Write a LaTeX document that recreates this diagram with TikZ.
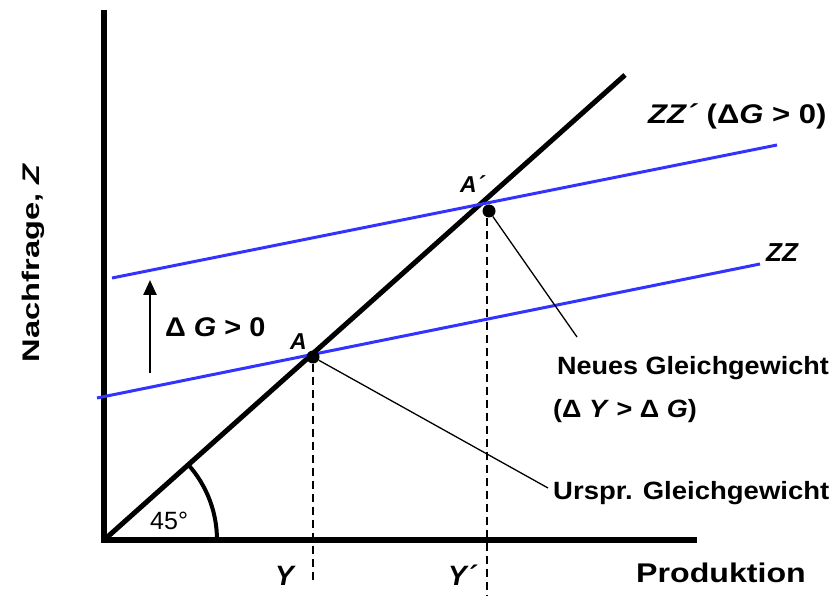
\documentclass[tikz,border=0pt]{standalone}
\usepackage{fontspec}
\setmainfont{Liberation Sans}
\usetikzlibrary{arrows.meta}
\begin{document}
\begin{tikzpicture}[x=1pt,y=1pt,yscale=-1,xscale=1,
  axis/.style={line width=6pt},
  zzline/.style={color={rgb,255:red,51;green,51;blue,255},line width=3pt},
  guide/.style={line width=1.5pt,dash pattern=on 8pt off 5pt},
  pointer/.style={line width=1.3pt},
  lbl/.style={font=\bfseries\fontsize{25}{29}\selectfont,inner sep=0pt},
  ital/.style={font=\bfseries\itshape\fontsize{23}{27}\selectfont,inner sep=0pt},
  dot/.style={circle,fill=black,inner sep=0pt,minimum size=13pt}]
\useasboundingbox (0,0) rectangle (836,596);
% axes
\coordinate (O) at (104,540);
\draw[axis] (104,10) -- (O) -- (697,540);
% 45 degree line
\coordinate (top) at (625,75);
\draw[line width=5pt] (O) -- (top);
\draw[line width=4pt] (217,540) arc (0:-41.8:113);
\draw (150,529) node[anchor=base west,font=\fontsize{25}{29}\selectfont,inner sep=0pt] (deg) {45°};
% ZZ and ZZ'
\draw[zzline] (97,398) -- (760,264);
\draw[zzline] (112,278) -- (777,145);
% equilibria
\node[dot] (A) at (313,357) {};
\node[dot] (Ap) at (489,211) {};
\coordinate (Yb) at (313,580);
\coordinate (Ypb) at (487,596);
\draw[guide] (A) -- (Yb);
\draw[guide] ([xshift=-2pt]Ap.south) -- (Ypb);
% shift arrow
\coordinate (g0) at (150,373);
\coordinate (g1) at (150,280);
\draw[line width=2.5pt,-{Triangle[length=15pt,width=13pt]}] (g0) -- (g1);
\draw (165,337) node[lbl,anchor=base west,font=\bfseries\fontsize{27}{31}\selectfont] (dG) {\scalebox{1.07}[1]{Δ \textit{G} > 0}};
% labels
\draw (290,349) node[ital,anchor=base west] (Alab) {A};
\draw (460,193) node[ital,anchor=base west] (Aplab) {A´};
\draw (766,262) node[ital,anchor=base west,font=\bfseries\itshape\fontsize{26}{30}\selectfont] (zz) {ZZ};
\draw (648,124) node[lbl,anchor=base west,font=\bfseries\fontsize{27}{31}\selectfont] (zzp) {\scalebox{1.15}[1]{\textit{ZZ´} (Δ\textit{G} > 0)}};
\draw (275,585) node[ital,anchor=base west,font=\bfseries\itshape\fontsize{28}{32}\selectfont] (Y) {Y};
\draw (448,585) node[ital,anchor=base west,font=\bfseries\itshape\fontsize{28}{32}\selectfont] (Yp) {Y´};
\draw (636,582) node[lbl,anchor=base west,font=\bfseries\fontsize{27}{31}\selectfont] (prod) {\scalebox{1.19}[1]{Produktion}};
\draw (39,263) node[lbl,anchor=base,rotate=90,font=\bfseries\fontsize{24}{28}\selectfont] (nach) {\scalebox{1.36}[1]{Nachfrage, \textit{Z}}};
\draw (557,374) node[lbl,anchor=base west] (neu) {\scalebox{1.08}[1]{Neues Gleichgewicht}};
\draw (553,417) node[lbl,anchor=base west] (neu2) {\scalebox{1.08}[1]{(Δ \textit{Y} > Δ \textit{G})}};
\draw (553,499) node[lbl,anchor=base west] (urs) {\scalebox{1.1}[1]{Urspr. Gleichgewicht}};
% pointers
\coordinate (neuend) at (577,337);
\coordinate (ursend) at (548,488);
\draw[pointer] (Ap) -- (neuend);
\draw[pointer] (A) -- (ursend);
\end{tikzpicture}
\end{document}
